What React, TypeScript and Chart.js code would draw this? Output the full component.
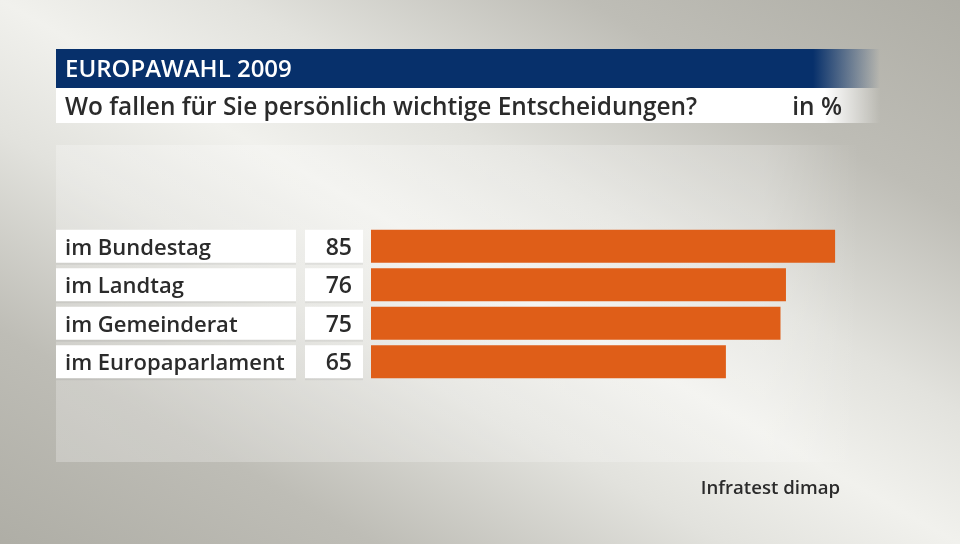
import React, { useEffect, useRef } from "react";
import { Chart, registerables } from "chart.js";

Chart.register(...registerables);

const TITLE = "EUROPAWAHL 2009";
const SUBTITLE = "Wo fallen für Sie persönlich wichtige Entscheidungen?";
const UNIT = "in %";
const SOURCE = "Infratest dimap";
const categories = ["im Bundestag", "im Landtag", "im Gemeinderat", "im Europaparlament"];
const values = [85, 76, 75, 65];

const FONT = '"Open Sans", "DejaVu Sans", sans-serif';
const TEXT = "#2b2b2b";
const BAR = "#df5e18";
const NAVY = "#07306b";

const decor = {
  id: "decor",
  beforeDraw(chart: any) {
    const ctx = chart.ctx as CanvasRenderingContext2D;
    const W = chart.width, H = chart.height;
    ctx.save();
    // background
    ctx.fillStyle = "#aeada5";
    ctx.fillRect(0, 0, W, H);
    const cx = W / 2, cy = H / 2;
    const nx = 544 / 1103, ny = -960 / 1103;
    const g = ctx.createLinearGradient(cx - nx * 480, cy - ny * 480, cx + nx * 480, cy + ny * 480);
    g.addColorStop(0, "#aeada5");
    g.addColorStop(0.2, "#bebdb6");
    g.addColorStop(0.38, "#e2e2dd");
    g.addColorStop(0.5, "#f1f1ed");
    g.addColorStop(0.62, "#e2e2dd");
    g.addColorStop(0.8, "#bebdb6");
    g.addColorStop(1, "#aeada5");
    ctx.fillStyle = g;
    ctx.fillRect(0, 0, W, H);
    // panel
    const pg = ctx.createLinearGradient(56, 0, 860, 0);
    pg.addColorStop(0, "rgba(255,255,255,0.25)");
    pg.addColorStop(0.88, "rgba(255,255,255,0.2)");
    pg.addColorStop(1, "rgba(255,255,255,0)");
    ctx.fillStyle = pg;
    ctx.fillRect(56, 145, 804, 317);
    // title bar
    const tg = ctx.createLinearGradient(56, 0, 880, 0);
    tg.addColorStop(0, NAVY);
    tg.addColorStop((813 - 56) / 824, NAVY);
    tg.addColorStop(1, "rgba(7,48,107,0)");
    ctx.fillStyle = tg;
    ctx.fillRect(56, 49, 824, 39);
    const sg = ctx.createLinearGradient(56, 0, 880, 0);
    sg.addColorStop(0, "#ffffff");
    sg.addColorStop((825 - 56) / 824, "#ffffff");
    sg.addColorStop(1, "rgba(255,255,255,0)");
    ctx.fillStyle = sg;
    ctx.fillRect(56, 88, 824, 35);
    ctx.textBaseline = "alphabetic";
    ctx.fillStyle = "#ffffff";
    ctx.font = `600 24px ${FONT}`;
    ctx.textAlign = "left";
    ctx.fillText(TITLE, 65, 77);
    ctx.fillStyle = TEXT;
    ctx.font = `600 24.4px ${FONT}`;
    ctx.fillText(SUBTITLE, 65, 115);
    ctx.textAlign = "right";
    ctx.fillText(UNIT, 842, 115);
    ctx.font = `600 18.6px ${FONT}`;
    ctx.fillText(SOURCE, 840, 494);
    // label & value boxes
    const meta = chart.getDatasetMeta(0);
    meta.data.forEach((bar: any) => {
      const top = bar.y - bar.height / 2;
      ctx.fillStyle = "rgba(0,0,0,0.06)";
      ctx.fillRect(56, top + 1, 240, bar.height + 1);
      ctx.fillRect(305, top + 1, 58, bar.height + 1);
      ctx.fillStyle = "#ffffff";
      ctx.fillRect(56, top, 240, bar.height);
      ctx.fillRect(305, top, 58, bar.height);
    });
    ctx.restore();
  },
  afterDatasetsDraw(chart: any) {
    const ctx = chart.ctx as CanvasRenderingContext2D;
    const meta = chart.getDatasetMeta(0);
    const data = chart.data.datasets[0].data as number[];
    ctx.save();
    ctx.fillStyle = TEXT;
    ctx.font = `600 23px ${FONT}`;
    ctx.textAlign = "right";
    ctx.textBaseline = "middle";
    meta.data.forEach((bar: any, i: number) => {
      ctx.fillText(String(data[i]), 352, bar.y + 2);
    });
    ctx.restore();
  },
};

export default function App() {
  const ref = useRef<HTMLCanvasElement>(null);
  useEffect(() => {
    if (!ref.current) return;
    const chart = new Chart(ref.current, {
      type: "bar",
      data: {
        labels: categories,
        datasets: [
          {
            data: values,
            backgroundColor: BAR,
            borderWidth: 0,
            barPercentage: 0.857,
            categoryPercentage: 1,
          },
        ],
      },
      options: {
        indexAxis: "y",
        animation: false,
        responsive: false,
        events: [],
        layout: { padding: { left: 65, right: 43, top: 227, bottom: 163 } },
        plugins: { legend: { display: false }, title: { display: false }, tooltip: { enabled: false } },
        scales: {
          x: { display: false, min: 0, max: 100 },
          y: {
            grid: { display: false },
            border: { display: false },
            afterFit: (s: any) => {
              s.width = 306;
            },
            ticks: {
              crossAlign: "far",
              color: TEXT,
              font: { family: FONT, size: 22, weight: "600" },
              padding: 0,
              labelOffset: 2,
            },
          },
        },
      },
      plugins: [decor],
    });
    return () => chart.destroy();
  }, []);
  return (
    <div style={{ position: "absolute", left: 0, top: 0, width: 960, height: 544 }}>
      <canvas ref={ref} width={960} height={544} style={{ width: 960, height: 544, display: "block" }} />
    </div>
  );
}
